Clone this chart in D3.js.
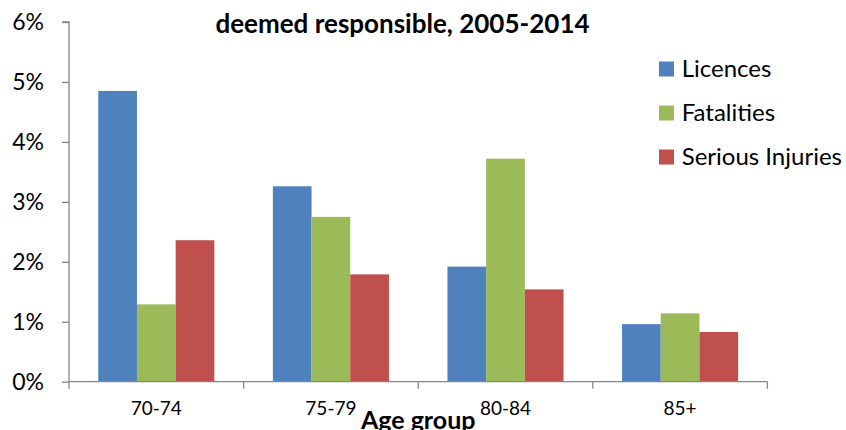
<!DOCTYPE html>
<html>
<head>
<meta charset="utf-8">
<script src="https://cdn.jsdelivr.net/npm/d3@7"></script>
<style>
  html, body { margin: 0; padding: 0; background: #fff; }
  svg { display: block; }
  text { font-family: Lato, "Open Sans", sans-serif; fill: #000; }
</style>
</head>
<body>
<svg id="chart" width="846" height="430"></svg>
<script>
// ---- data ----
const categories = ["70-74", "75-79", "80-84", "85+"];
const seriesNames = ["Licences", "Fatalities", "Serious Injuries"];
const licences = [0.0485, 0.0326, 0.0192, 0.0096];
const fatalities = [0.0129, 0.0275, 0.0372, 0.0114];
const seriousInjuries = [0.0236, 0.0179, 0.0154, 0.0083];
const yTicks = [0, 0.01, 0.02, 0.03, 0.04, 0.05, 0.06];
const colors = ["#4F81BD", "#9BBB59", "#C0504D"];
const titleText = "deemed responsible, 2005-2014";
const xTitle = "Age group";

const seriesValues = [licences, fatalities, seriousInjuries];
const rows = categories.map((c, i) => ({
  cat: c,
  vals: seriesNames.map((s, j) => ({ key: s, value: seriesValues[j][i], idx: j }))
}));

// ---- layout ----
const svg = d3.select("#chart");
const mLeft = 69, mRight = 767.4, mTop = 22, mBottom = 381.7;
const axisColor = "#868686";

const x0 = d3.scaleBand().domain(categories).range([mLeft, mRight]).paddingInner(0).paddingOuter(0);
const x1 = d3.scaleBand().domain(seriesNames).range([0, x0.bandwidth()]).paddingInner(0).paddingOuter(0.756);
const y = d3.scaleLinear().domain([0, 0.06]).range([mBottom, mTop]);

// bars
const g = svg.append("g");
g.selectAll("g.grp").data(rows).join("g")
  .attr("class", "grp")
  .attr("transform", d => `translate(${x0(d.cat)},0)`)
  .selectAll("rect").data(d => d.vals).join("rect")
  .attr("x", d => x1(d.key))
  .attr("width", x1.bandwidth())
  .attr("y", d => y(d.value))
  .attr("height", d => y(0) - y(d.value))
  .attr("fill", d => colors[d.idx]);

// y axis
const yAxis = svg.append("g")
  .attr("transform", `translate(${mLeft},0)`)
  .call(d3.axisLeft(y).tickValues(yTicks).tickFormat(d3.format(".0%")).tickSize(7).tickPadding(18));
yAxis.select(".domain").attr("stroke", axisColor).attr("stroke-width", 1.3).attr("d", `M-7,${mTop}H0V${mBottom}`);
yAxis.selectAll(".tick line").attr("stroke", axisColor).attr("stroke-width", 1.3);
yAxis.selectAll(".tick text").style("font-size", "23px").attr("fill", "#000");

// x axis
const xAxis = svg.append("g")
  .attr("transform", `translate(0,${mBottom})`)
  .call(d3.axisBottom(x0).tickSize(0).tickPadding(0));
xAxis.select(".domain").attr("stroke", axisColor).attr("stroke-width", 1.3).attr("d", `M${mLeft},0H${mRight}`);
xAxis.selectAll(".tick text").style("font-size", "19px").attr("fill", "#000").attr("dy", null).attr("y", 33);
// boundary ticks
const boundaries = categories.map(c => x0(c)).concat([x0(categories[categories.length - 1]) + x0.bandwidth()]);
xAxis.selectAll("line.bnd").data(boundaries).join("line")
  .attr("class", "bnd")
  .attr("x1", d => d).attr("x2", d => d)
  .attr("y1", 0).attr("y2", 7)
  .attr("stroke", axisColor).attr("stroke-width", 1.3);

// title
svg.append("text")
  .attr("x", 402.5).attr("y", 33)
  .attr("text-anchor", "middle")
  .style("font-size", "26px").style("font-weight", "bold")
  .text(titleText);

// x axis title
svg.append("text")
  .attr("x", (mLeft + mRight) / 2).attr("y", 429)
  .attr("text-anchor", "middle")
  .style("font-size", "25px").style("font-weight", "bold")
  .text(xTitle);

// legend
const legendY = [69, 113, 157];
const leg = svg.append("g");
const li = leg.selectAll("g").data(seriesNames).join("g")
  .attr("transform", (d, i) => `translate(659,${legendY[i]})`);
li.append("rect").attr("x", 0).attr("y", -7.5).attr("width", 15).attr("height", 15)
  .attr("fill", (d, i) => colors[i]);
li.append("text").attr("x", 22.7).attr("y", 0).attr("dy", "0.35em")
  .style("font-size", "24px").text(d => d);
</script>
</body>
</html>
